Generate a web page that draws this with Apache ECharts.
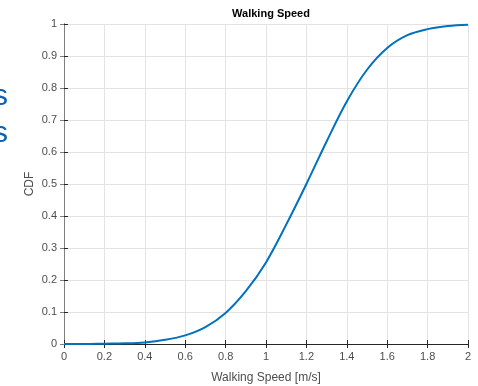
<!DOCTYPE html>
<html>
<head>
<meta charset="utf-8">
<script src="https://cdn.jsdelivr.net/npm/echarts@6/dist/echarts.min.js"></script>
<style>
  html, body { margin: 0; padding: 0; background: #ffffff; }
  #chart { width: 478px; height: 386px; }
</style>
</head>
<body>
<div id="chart"></div>
<script>
// Walking speed samples (m/s) and the empirical cumulative distribution
var speeds = [0, 0.1, 0.2, 0.3, 0.4, 0.5, 0.6, 0.7, 0.8, 0.9, 1.0, 1.1, 1.2, 1.3, 1.4, 1.5, 1.6, 1.7, 1.8, 1.9, 2.0];
var cdfValues = [0, 0, 0.001, 0.002, 0.005, 0.013, 0.027, 0.053, 0.097, 0.165, 0.255, 0.373, 0.5, 0.633, 0.758, 0.857, 0.925, 0.965, 0.984, 0.994, 0.998];

var xTickLabels = ['0', '0.2', '0.4', '0.6', '0.8', '1', '1.2', '1.4', '1.6', '1.8', '2'];
var yTickLabels = ['0', '0.1', '0.2', '0.3', '0.4', '0.5', '0.6', '0.7', '0.8', '0.9', '1'];

var FONT = '"Liberation Sans", Arial, Helvetica, sans-serif';
var AXIS_COLOR = '#262626';
var LABEL_COLOR = '#4d4d4d';

var points = speeds.map(function (s, i) { return [s, cdfValues[i]]; });

function xLabel(v) { return xTickLabels[Math.round(v / 0.2)]; }
function yLabel(v) { return yTickLabels[Math.round(v / 0.1)]; }

// inward-pointing box ticks, one fresh object per axis
function boxTick(color) {
  return { show: true, inside: true, length: 4, lineStyle: { color: color, width: 1 } };
}

var chart = echarts.init(document.getElementById('chart'), null, { renderer: 'canvas' });

chart.setOption({
  animation: false,
  backgroundColor: '#ffffff',
  title: {
    text: 'Walking Speed',
    left: 266,
    top: 3,
    textAlign: 'center',
    textStyle: { fontFamily: FONT, fontSize: 11, fontWeight: 'bold', color: '#000000' }
  },
  graphic: [
    { type: 'text', left: -7, top: 82,
      style: { text: 's', fontFamily: FONT, fontSize: 30, fill: '#0f62ae' } },
    { type: 'text', left: -7, top: 119,
      style: { text: 's', fontFamily: FONT, fontSize: 30, fill: '#0f62ae' } }
  ],
  grid: { left: 64, right: 10, top: 24, bottom: 42, containLabel: false, outerBoundsMode: 'none' },
  xAxis: [
    {
      type: 'value', min: 0, max: 2, interval: 0.2, position: 'bottom',
      name: 'Walking Speed [m/s]', nameLocation: 'middle', nameGap: 28,
      nameMoveOverlap: false,
      nameTextStyle: { fontFamily: FONT, fontSize: 12, color: LABEL_COLOR },
      axisLine: { show: true, lineStyle: { color: AXIS_COLOR, width: 1 } },
      axisTick: boxTick(AXIS_COLOR),
      axisLabel: { fontFamily: FONT, fontSize: 11, color: LABEL_COLOR, margin: 7, formatter: xLabel },
      splitLine: { show: true, lineStyle: { color: '#e3e3e3', width: 1 } }
    },
    {
      type: 'value', min: 0, max: 2, interval: 0.2, position: 'top',
      axisLine: { show: true, lineStyle: { color: AXIS_COLOR, width: 1 } },
      axisTick: boxTick(AXIS_COLOR),
      axisLabel: { show: false },
      splitLine: { show: false }
    }
  ],
  yAxis: [
    {
      type: 'value', min: 0, max: 1, interval: 0.1, position: 'left',
      name: 'CDF', nameLocation: 'middle', nameGap: 28, nameRotate: 90,
      nameMoveOverlap: false,
      nameTextStyle: { fontFamily: FONT, fontSize: 12, color: LABEL_COLOR },
      axisLine: { show: true, lineStyle: { color: AXIS_COLOR, width: 1 } },
      axisTick: boxTick(AXIS_COLOR),
      axisLabel: { fontFamily: FONT, fontSize: 11, color: LABEL_COLOR, margin: 7, formatter: yLabel },
      splitLine: { show: true, lineStyle: { color: '#e3e3e3', width: 1 } }
    },
    {
      type: 'value', min: 0, max: 1, interval: 0.1, position: 'right',
      axisLine: { show: true, lineStyle: { color: '#7f7f7f', width: 1 } },
      axisTick: boxTick('#7f7f7f'),
      axisLabel: { show: false },
      splitLine: { show: false }
    }
  ],
  series: [
    {
      type: 'line',
      data: points,
      xAxisIndex: 0,
      yAxisIndex: 0,
      smooth: 0.35,
      showSymbol: false,
      lineStyle: { color: '#0072bd', width: 2 },
      z: 5
    }
  ]
});
</script>
</body>
</html>
